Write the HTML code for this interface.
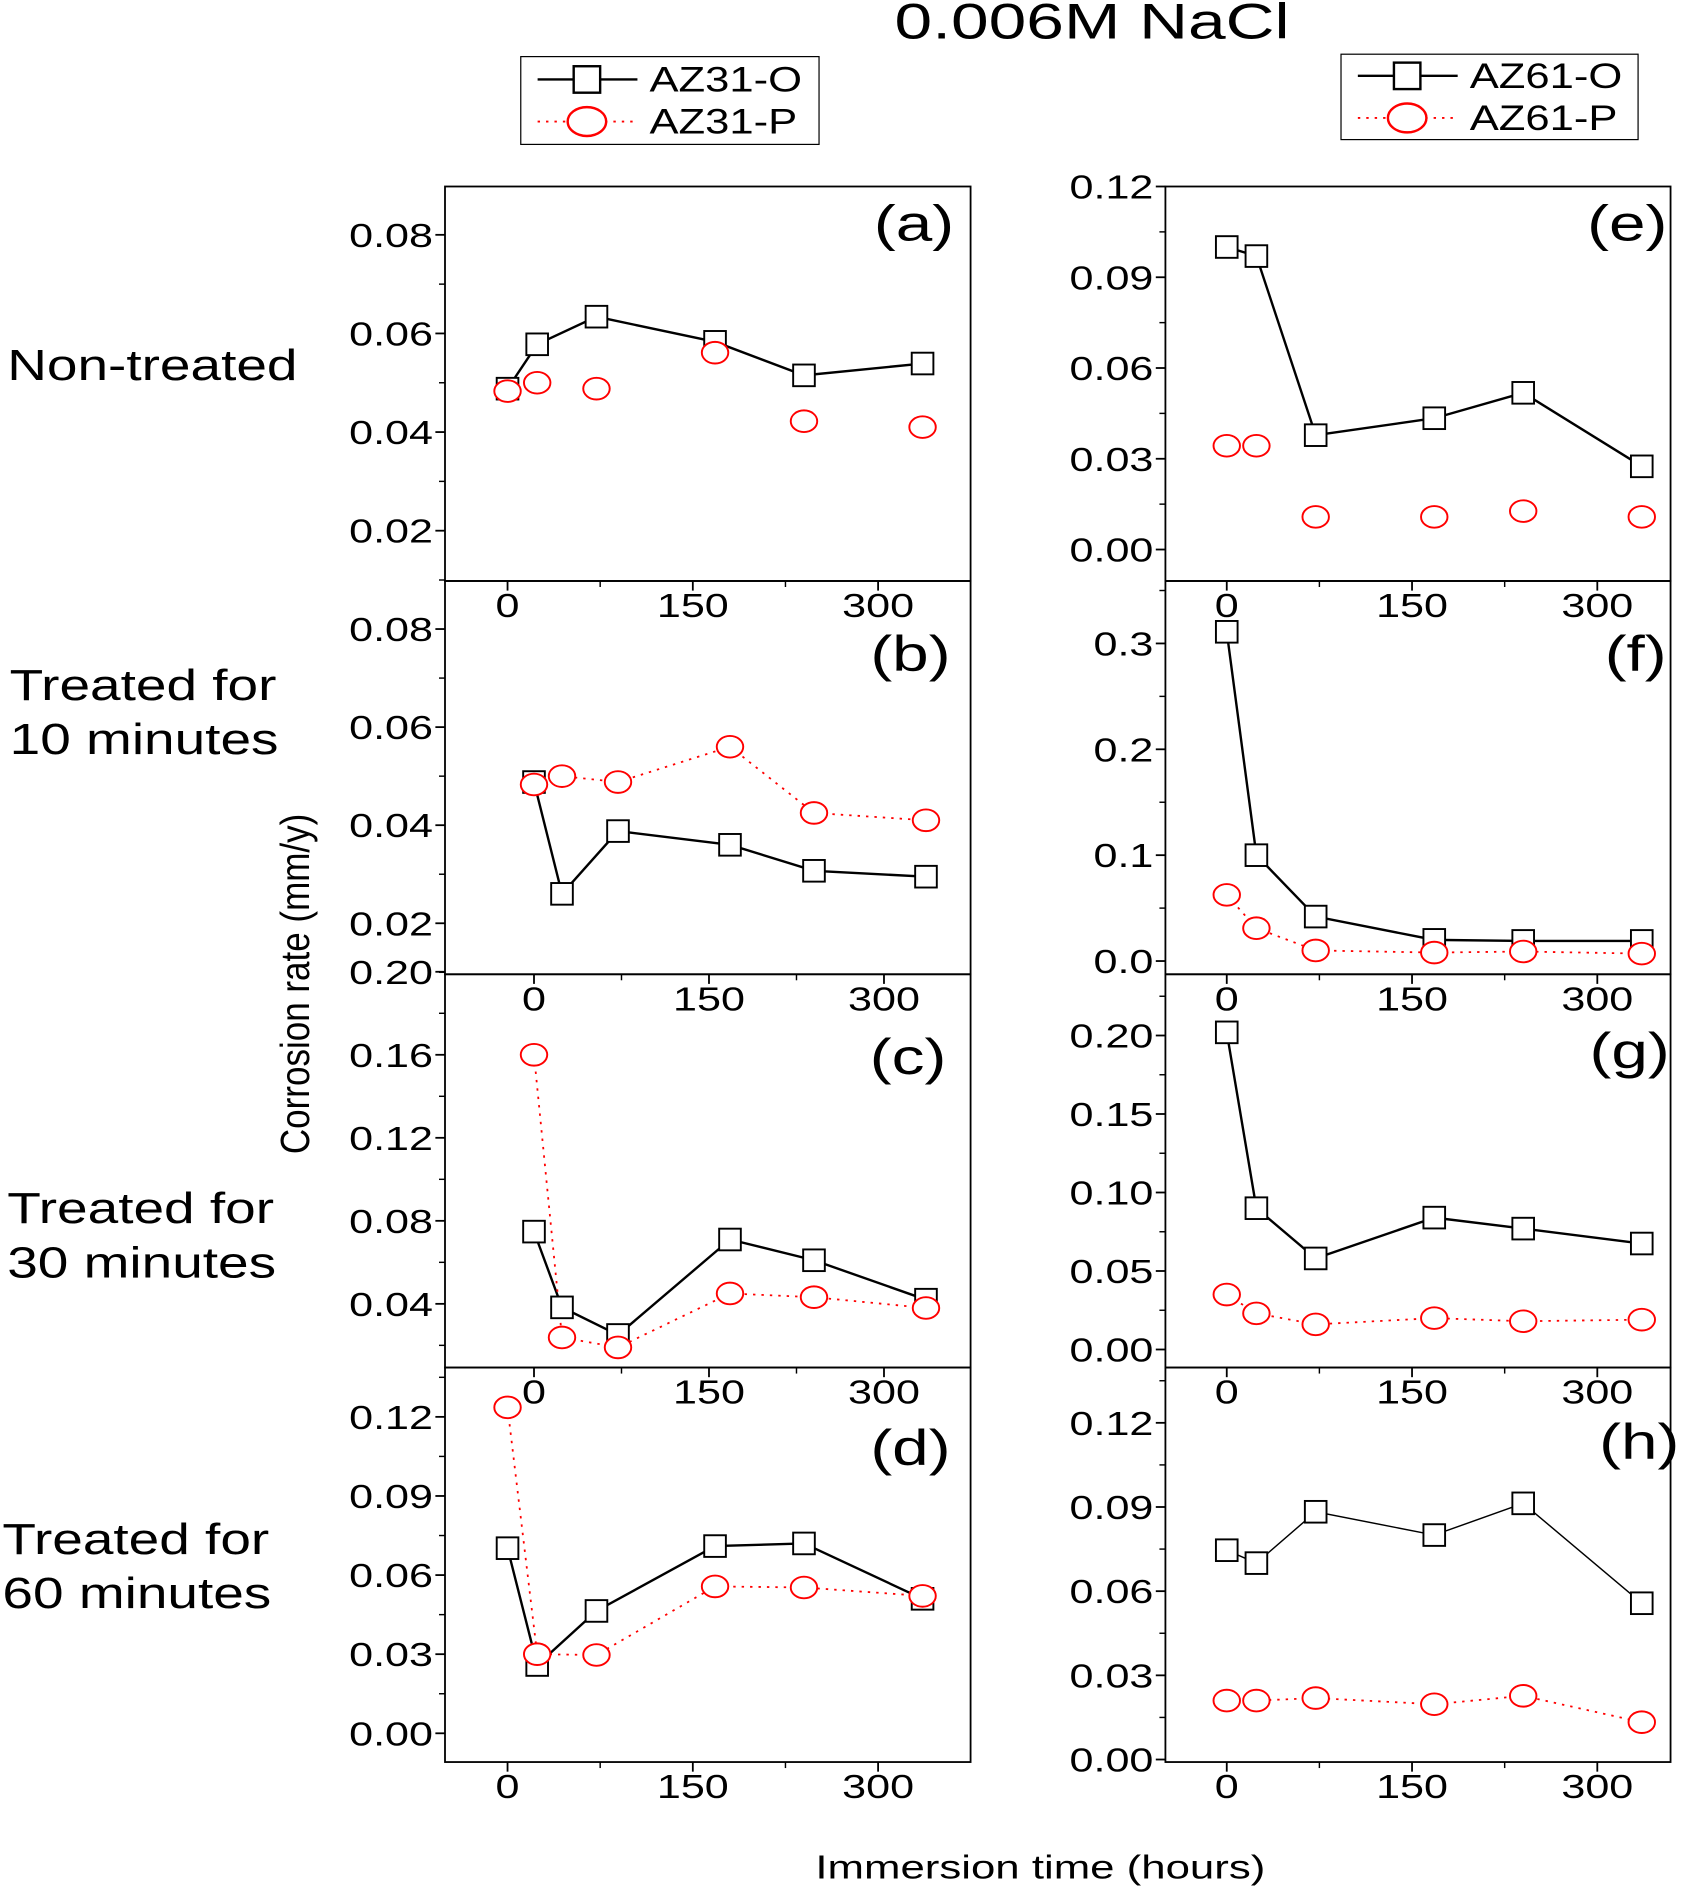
<!DOCTYPE html>
<html><head><meta charset="utf-8"><style>
html,body{margin:0;padding:0;background:#fff}
svg{display:block;font-family:"Liberation Sans",sans-serif}
</style></head><body>
<svg id="chart" width="1691" height="1886" viewBox="0 0 1406 1568" xmlns="http://www.w3.org/2000/svg">
<text transform="translate(908,32) scale(1.34,1)" font-size="42" text-anchor="middle">0.006M NaCl</text>
<g>
<rect x="433" y="47" width="248" height="73" fill="#fff" stroke="#000" stroke-width="1"/>
<line x1="447" y1="66" x2="530" y2="66" stroke="#000" stroke-width="2"/>
<rect x="477" y="55" width="22" height="22" fill="#fff" stroke="#000" stroke-width="2"/>
<text transform="translate(540,76) scale(1.25,1)" font-size="29">AZ31-O</text>
<line x1="447" y1="101" x2="530" y2="101" stroke="red" stroke-width="1.5" stroke-dasharray="2,5"/>
<ellipse cx="488" cy="101" rx="16" ry="12" fill="#fff" stroke="red" stroke-width="2"/>
<text transform="translate(540,111) scale(1.25,1)" font-size="29">AZ31-P</text>
</g>
<g>
<rect x="1115" y="45" width="247" height="71" fill="#fff" stroke="#000" stroke-width="1"/>
<line x1="1129" y1="63" x2="1212" y2="63" stroke="#000" stroke-width="2"/>
<rect x="1159" y="52" width="22" height="22" fill="#fff" stroke="#000" stroke-width="2"/>
<text transform="translate(1222,73) scale(1.25,1)" font-size="29">AZ61-O</text>
<line x1="1129" y1="98" x2="1212" y2="98" stroke="red" stroke-width="1.5" stroke-dasharray="2,5"/>
<ellipse cx="1170" cy="98" rx="16" ry="12" fill="#fff" stroke="red" stroke-width="2"/>
<text transform="translate(1222,108) scale(1.25,1)" font-size="29">AZ61-P</text>
</g>
<g font-size="36">
<text transform="translate(6,316) scale(1.27,1)">Non-treated</text>
<text transform="translate(8,582) scale(1.27,1)">Treated for</text>
<text transform="translate(8,627) scale(1.27,1)">10 minutes</text>
<text transform="translate(6,1017) scale(1.27,1)">Treated for</text>
<text transform="translate(6,1062) scale(1.27,1)">30 minutes</text>
<text transform="translate(2,1292) scale(1.27,1)">Treated for</text>
<text transform="translate(2,1337) scale(1.27,1)">60 minutes</text>
</g>
<text transform="translate(257,818) rotate(-90) scale(1.04,1.2)" font-size="28" text-anchor="middle">Corrosion rate (mm/y)</text>
<text transform="translate(865,1562) scale(1.3,1)" font-size="28" text-anchor="middle">Immersion time (hours)</text>
<g id="panels"></g>
</svg>
<script>
const times = [0, 24, 72, 168, 240, 336];
const xTicks = [0, 150, 300];
const aO = [0.0488, 0.0578, 0.0634, 0.0583, 0.0515, 0.0539];
const aP = [0.0483, 0.050, 0.0488, 0.0561, 0.0422, 0.041];
const bO = [0.0488, 0.026, 0.0388, 0.036, 0.0307, 0.0295];
const bP = [0.0483, 0.050, 0.0488, 0.056, 0.0425, 0.041];
const cO = [0.0748, 0.0383, 0.025, 0.071, 0.061, 0.042];
const cP = [0.16, 0.0238, 0.019, 0.045, 0.0432, 0.038];
const dO = [0.0702, 0.0259, 0.0464, 0.071, 0.072, 0.051];
const dP = [0.1236, 0.030, 0.0297, 0.0557, 0.0553, 0.0521];
const eO = [0.100, 0.097, 0.0378, 0.0434, 0.0518, 0.0275];
const eP = [0.0343, 0.0343, 0.0108, 0.0108, 0.0127, 0.0108];
const fO = [0.311, 0.100, 0.042, 0.020, 0.019, 0.019];
const fP = [0.0625, 0.031, 0.010, 0.008, 0.009, 0.007];
const gO = [0.202, 0.090, 0.058, 0.084, 0.077, 0.0675];
const gP = [0.035, 0.023, 0.016, 0.020, 0.018, 0.019];
const hO = [0.0746, 0.070, 0.0883, 0.080, 0.0913, 0.0557];
const hP = [0.021, 0.021, 0.0219, 0.0197, 0.0227, 0.0133];
const aTicks = [0.02, 0.04, 0.06, 0.08];
const bTicks = [0.02, 0.04, 0.06, 0.08];
const cTicks = [0.04, 0.08, 0.12, 0.16, 0.20];
const dTicks = [0.00, 0.03, 0.06, 0.09, 0.12];
const eTicks = [0.00, 0.03, 0.06, 0.09, 0.12];
const fTicks = [0.0, 0.1, 0.2, 0.3];
const gTicks = [0.00, 0.05, 0.10, 0.15, 0.20];
const hTicks = [0.00, 0.03, 0.06, 0.09, 0.12];

const NS = "http://www.w3.org/2000/svg";
const root = document.getElementById('panels');
function mk(tag, attrs, parent){const e=document.createElementNS(NS,tag);for(const k in attrs)e.setAttribute(k,attrs[k]);parent.appendChild(e);return e;}
function txt(x,y,s,size,anchor,parent,str){const t=mk('text',{transform:'translate('+x+','+y+') scale('+s+',1)','font-size':size,'text-anchor':anchor},parent);t.textContent=str;return t;}

const panels = [
 {id:'a',x0:370,x1:807,y0:155,y1:483,ylo:0.0098,yhi:0.0898,x0px:422,xs:1.027,ticks:aTicks,dec:2,O:aO,P:aP,pLine:false,lab:'(a)',lx:760,ly:200},
 {id:'b',x0:370,x1:807,y0:483,y1:810,ylo:0.0096,yhi:0.0898,x0px:444,xs:0.97,ticks:bTicks,dec:2,O:bO,P:bP,pLine:true,lab:'(b)',lx:757,ly:558},
 {id:'c',x0:370,x1:807,y0:810,y1:1137,ylo:0.0093,yhi:0.1988,x0px:444,xs:0.97,ticks:cTicks,dec:2,O:cO,P:cP,pLine:true,lab:'(c)',lx:755,ly:893},
 {id:'d',x0:370,x1:807,y0:1137,y1:1465,ylo:-0.0109,yhi:0.1387,x0px:422,xs:1.027,ticks:dTicks,dec:2,O:dO,P:dP,pLine:true,lab:'(d)',lx:757,ly:1218},
 {id:'e',x0:969,x1:1389,y0:155,y1:483,ylo:-0.0104,yhi:0.12,x0px:1020,xs:1.027,ticks:eTicks,dec:2,O:eO,P:eP,pLine:false,lab:'(e)',lx:1353,ly:200},
 {id:'f',x0:969,x1:1389,y0:483,y1:810,ylo:-0.0125,yhi:0.359,x0px:1020,xs:1.027,ticks:fTicks,dec:1,O:fO,P:fP,pLine:true,lab:'(f)',lx:1360,ly:558},
 {id:'g',x0:969,x1:1389,y0:810,y1:1137,ylo:-0.0115,yhi:0.239,x0px:1020,xs:1.027,ticks:gTicks,dec:2,O:gO,P:gP,pLine:true,lab:'(g)',lx:1355,ly:888},
 {id:'h',x0:969,x1:1389,y0:1137,y1:1465,ylo:-0.0009,yhi:0.1397,x0px:1020,xs:1.027,ticks:hTicks,dec:2,O:hO,P:hP,pLine:true,lab:'(h)',lx:1363,ly:1213}
];

panels.forEach(p=>{
  const g = mk('g',{},root);
  
  
  const X = t => p.x0px + t*p.xs;
  const Y = v => p.y1 - (v-p.ylo)/(p.yhi-p.ylo)*(p.y1-p.y0);
  mk('rect',{x:p.x0,y:p.y0,width:p.x1-p.x0,height:p.y1-p.y0,fill:'none',stroke:'#000','stroke-width':1.5},g);
  const step = p.ticks[1]-p.ticks[0];
  p.ticks.forEach((v,i)=>{
    const y=Y(v);
    mk('line',{x1:p.x0,y1:y,x2:p.x0-8,y2:y,stroke:'#000','stroke-width':1.5},g);
    txt(p.x0-10,y+10,1.28,28,'end',g,v.toFixed(p.dec));
    const m=Y(v+step/2);
    if(m>p.y0) mk('line',{x1:p.x0,y1:m,x2:p.x0-5,y2:m,stroke:'#000','stroke-width':1.2},g);
  });
  const m0=Y(p.ticks[0]-step/2);
  if(m0<p.y1) mk('line',{x1:p.x0,y1:m0,x2:p.x0-5,y2:m0,stroke:'#000','stroke-width':1.2},g);
  xTicks.forEach(t=>{
    const x=X(t);
    mk('line',{x1:x,y1:p.y1,x2:x,y2:p.y1+8,stroke:'#000','stroke-width':1.5},g);
    const mx=X(t+75);
    if(mx<p.x1) mk('line',{x1:mx,y1:p.y1,x2:mx,y2:p.y1+5,stroke:'#000','stroke-width':1.2},g);
    txt(x,p.y1+30,1.28,28,'middle',g,String(t));
  });
  txt(p.lx,p.ly,1.3,42,'middle',g,p.lab);
  const ptsO=times.map((t,i)=>X(t)+','+Y(p.O[i])).join(' ');
  const lo=mk('polyline',{points:ptsO,fill:'none',stroke:'#000','stroke-width':p.id==='h'?1.2:2},g);
  
  
  if(p.pLine){
    const ptsP=times.map((t,i)=>X(t)+','+Y(p.P[i])).join(' ');
    const lp=mk('polyline',{points:ptsP,fill:'none',stroke:'red','stroke-width':1.5,'stroke-dasharray':'2,5'},g);
    
    
  }
  times.forEach((t,i)=>{
    const s=mk('rect',{x:X(t)-9,y:Y(p.O[i])-9,width:18,height:18,fill:'#fff',stroke:'#000','stroke-width':1.6},g);
    
    
  });
  times.forEach((t,i)=>{
    const c=mk('ellipse',{cx:X(t),cy:Y(p.P[i]),rx:11,ry:9,fill:'#fff',stroke:'red','stroke-width':1.6},g);
    
    
  });
});
</script>
</body></html>
